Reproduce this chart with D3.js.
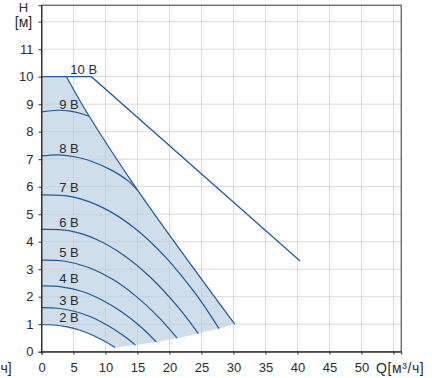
<!DOCTYPE html>
<html><head><meta charset="utf-8">
<script src="https://cdn.jsdelivr.net/npm/d3@7"></script>
<style>
html,body{margin:0;padding:0;background:#fff;}
svg{display:block;}
text{font-family:"Liberation Sans",Arial,sans-serif;fill:#2b2b2b;}
</style></head>
<body>
<svg id="chart" width="432" height="378"></svg>
<script>
// ---- data ----
const xTicks = [0,5,10,15,20,25,30,35,40,45,50,55];
const xTickLabels = ["0","5","10","15","20","25","30","35","40","45","50","Q[м³/ч]"];
const yTicks = [0,1,2,3,4,5,6,7,8,9,10,11,12];
const yTickLabels = ["0","1","2","3","4","5","6","7","8","9","10","11","[м]"];
const yTitle = "H";
const leftCutLabel = "ч]";

const voltLabels = ["2 В","3 В","4 В","5 В","6 В","7 В","8 В","9 В"];
const curve2 = [[0,0.98],[2,0.97],[4,0.90],[6,0.78],[8,0.60],[10,0.36],[11.5,0.15]];
const curve3 = [[0,1.60],[2.56,1.58],[5.11,1.47],[7.67,1.27],[10.22,0.97],[12.78,0.59],[14.7,0.24]];
const curve4 = [[0,2.39],[3.12,2.36],[6.25,2.20],[9.37,1.89],[12.5,1.45],[15.62,0.88],[17.96,0.35]];
const curve5 = [[0,3.33],[3.69,3.29],[7.37,3.06],[11.06,2.64],[14.74,2.02],[18.43,1.22],[21.19,0.49]];
const curve6 = [[0,4.45],[4.26,4.40],[8.52,4.09],[12.79,3.52],[17.05,2.70],[21.31,1.63],[24.51,0.66]];
const curve7 = [[0,5.70],[4.82,5.63],[9.65,5.23],[14.47,4.51],[19.3,3.46],[24.12,2.09],[27.74,0.84]];
const curve8 = [[0,7.12],[2.7,7.16],[5.39,7.08],[8.09,6.90],[10.78,6.62],[13.48,6.22],[15.09,5.85]];
const curve9 = [[0,8.72],[2.5,8.78],[4.5,8.75],[6,8.67],[7.46,8.56]];
const curve10 = [[0,10],[7.8,10],[40.4,3.3]];
const label10 = "10 В";
const upperBound = [[3.9,10],[7.46,8.56],[15.09,5.85],[30.2,1.0]];
const lowerBound = [[11.5,0.15],[14.7,0.24],[17.96,0.35],[21.19,0.49],[24.51,0.66],[27.74,0.84],[30.2,1.0]];

// ---- layout ----
const svg = d3.select("#chart");
const x = d3.scaleLinear().domain([0,56.2]).range([41.5,401.2]);
const y = d3.scaleLinear().domain([0,12.6]).range([351.7,5.2]);
const lineColor = "#1d5a98";
const fs = "13px";
const ff = "Liberation Sans, Arial, sans-serif";

// grid
const g = svg.append("g");
g.selectAll(".vg").data(xTicks).enter().append("line")
  .attr("x1",d=>x(d)).attr("x2",d=>x(d)).attr("y1",y(0)).attr("y2",y(12.6))
  .attr("stroke","#dadada").attr("stroke-width",1);
g.selectAll(".hg").data(yTicks).enter().append("line")
  .attr("x1",x(0)).attr("x2",x(56.2)).attr("y1",d=>y(d)).attr("y2",d=>y(d))
  .attr("stroke","#dadada").attr("stroke-width",1);

// shaded area
const seg = d3.line().x(d=>x(d[0])).y(d=>y(d[1])).curve(d3.curveCatmullRom.alpha(0.5));
let p = "M" + x(0) + "," + y(10) + "L" + x(upperBound[0][0]) + "," + y(10);
p += "L" + seg(upperBound).slice(1);
p += "L" + seg(lowerBound.slice().reverse()).slice(1);
p += "L" + seg(curve2.slice().reverse()).slice(1);
p += "Z";
svg.append("path").attr("d",p).attr("fill","#b9cde0").attr("fill-opacity",0.68).attr("stroke","none");

// curves
const curves = [curve2,curve3,curve4,curve5,curve6,curve7,curve8,curve9];
svg.selectAll(".c").data(curves).enter().append("path")
  .attr("d",d=>seg(d)).attr("fill","none").attr("stroke",lineColor).attr("stroke-width",1.2);
svg.append("path").attr("d",d3.line().x(d=>x(d[0])).y(d=>y(d[1]))(curve10))
  .attr("fill","none").attr("stroke",lineColor).attr("stroke-width",1.2);
svg.append("path").attr("d",seg(upperBound)).attr("fill","none").attr("stroke",lineColor).attr("stroke-width",1.2);

// labels
svg.selectAll(".vl").data(curves).enter().append("text")
  .attr("x",x(4.3)).attr("y",d=>y(d[0][1]) - 7.5).attr("dy","0.36em")
  .attr("text-anchor","middle").attr("font-size",fs)
  .text((d,i)=>voltLabels[i]);
svg.append("text").attr("x",x(6.6)).attr("y",y(10)-7).attr("dy","0.36em")
  .attr("text-anchor","middle").attr("font-size",fs).text(label10);

// frame
svg.append("rect").attr("x",x(0)).attr("y",y(12.6)).attr("width",x(56.2)-x(0)).attr("height",y(0)-y(12.6))
  .attr("fill","none").attr("stroke","#333").attr("stroke-width",1);

// axes
const xAxis = d3.axisBottom(x).tickValues(xTicks).tickSize(3).tickFormat((d,i)=>xTickLabels[i]);
const ax = svg.append("g").attr("transform",`translate(0,${y(0)})`).call(xAxis);
ax.select(".domain").attr("stroke","#333");
ax.selectAll(".tick line").attr("stroke","#333");
ax.selectAll(".tick text").attr("font-size",fs).attr("fill","#2b2b2b").attr("font-family",ff).attr("y",11);
ax.selectAll(".tick text").filter((d,i)=>i===xTicks.length-1).attr("text-anchor","start").attr("x",-18)
  .attr("font-size","14px").attr("letter-spacing","0.6px");

const yAxis = d3.axisLeft(y).tickValues(yTicks).tickSize(3).tickFormat((d,i)=>yTickLabels[i]);
const ay = svg.append("g").attr("transform",`translate(${x(0)},0)`).call(yAxis);
ay.select(".domain").attr("stroke","#333");
ay.selectAll(".tick line").attr("stroke","#333");
ay.selectAll(".tick text").attr("font-size",fs).attr("fill","#2b2b2b").attr("font-family",ff).attr("x",-8);
ay.selectAll(".tick text").filter((d,i)=>i===yTicks.length-1).attr("text-anchor","middle").attr("x",-18).attr("font-size","14px");

svg.append("text").attr("x",x(0)-18).attr("y",y(12)-14.5).attr("dy","0.36em").attr("text-anchor","middle")
  .attr("font-size",fs).text(yTitle);
svg.append("text").attr("x",0.5).attr("y",y(0)+11).attr("dy","0.71em").attr("text-anchor","start")
  .attr("font-size","14px").text(leftCutLabel);
</script>
</body></html>
